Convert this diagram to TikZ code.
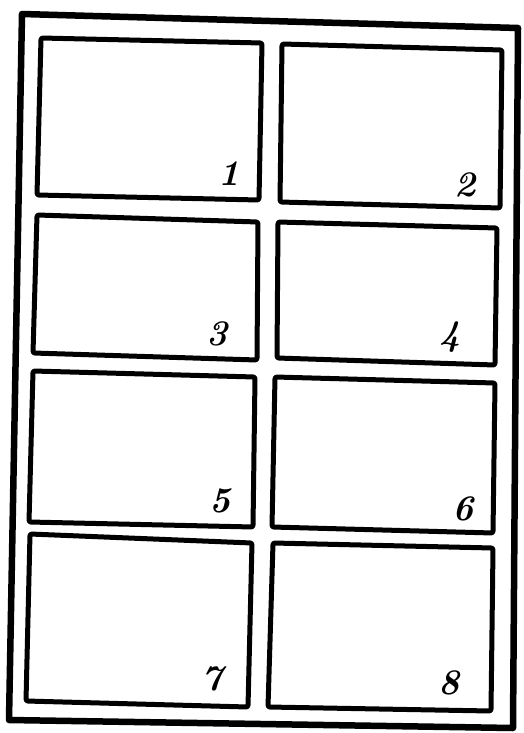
\documentclass[tikz,border=0pt]{standalone}
\usepackage{tikz}
\begin{document}
\begin{tikzpicture}[x=1pt,y=-1pt,
  frm/.style={line width=6.5pt,line join=round},
  pnl/.style={line width=5pt,line join=round,rounded corners=2pt},
  num/.style={font=\fontsize{36}{36}\selectfont\bfseries\itshape,inner sep=0pt}]
  \useasboundingbox (0,0) rectangle (523,733);
  % outer sheet
  \draw[frm] (22,14) -- (518,28) -- (513,728) -- (9,720) -- cycle;
  % row 1
  \draw[pnl] (41,38) -- (262,43) -- (259,200) -- (37,195) -- cycle;
  \draw[pnl] (282,44) -- (502,50) -- (500,208) -- (280,202) -- cycle;
  % row 2
  \draw[pnl] (37,215) -- (258,222) -- (257,360) -- (33,353) -- cycle;
  \draw[pnl] (278,222) -- (497,228) -- (495,365) -- (277,358) -- cycle;
  % row 3
  \draw[pnl] (33,371) -- (255,377) -- (253,527) -- (29,522) -- cycle;
  \draw[pnl] (275,377) -- (495,383) -- (493,533) -- (272,527) -- cycle;
  % row 4
  \draw[pnl] (30,534) -- (252,543) -- (248,707) -- (26,701) -- cycle;
  \draw[pnl] (273,543) -- (493,548) -- (491,711) -- (268,707) -- cycle;
  % numbers
  \node[num] (n1) at (229,174) {1};
  \node[num] (n2) at (465,185) {2};
  \node[num] (n3) at (217,334) {3};
  \node[num] (n4) at (450,337) {4};
  \node[num] (n5) at (220,501) {5};
  \node[num] (n6) at (463,509) {6};
  \node[num] (n7) at (212,679) {7};
  \node[num] (n8) at (449,683) {8};
\end{tikzpicture}
\end{document}
